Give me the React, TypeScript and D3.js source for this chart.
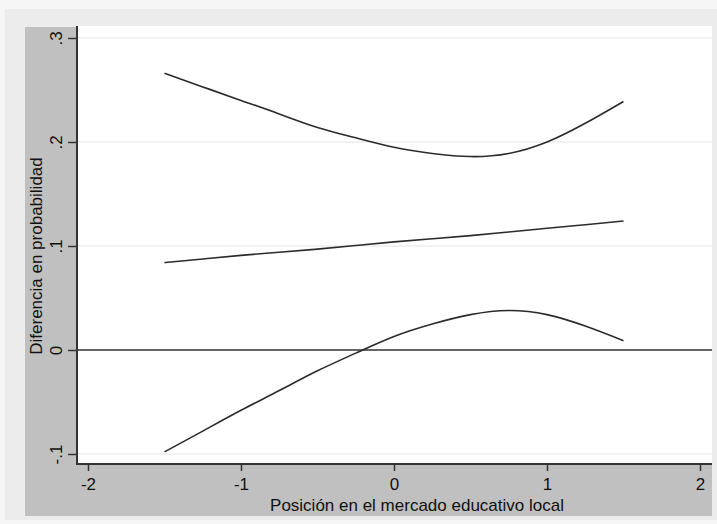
import React, { useRef, useEffect } from "react";
import * as d3 from "d3";

// data
const positions = [-1.5, -1.25, -1, -0.75, -0.5, -0.25, 0, 0.25, 0.5, 0.75, 1, 1.25, 1.5];
const upperBound = [0.266, 0.253, 0.24, 0.227, 0.214, 0.204, 0.195, 0.189, 0.186, 0.189, 0.2, 0.218, 0.239];
const estimate = [0.084, 0.0875, 0.091, 0.094, 0.097, 0.1005, 0.104, 0.107, 0.11, 0.1135, 0.117, 0.1205, 0.124];
const lowerBound = [-0.098, -0.078, -0.058, -0.039, -0.02, -0.003, 0.013, 0.025, 0.034, 0.038, 0.034, 0.023, 0.009];
const xTicks = [-2, -1, 0, 1, 2];
const yTicks = [-0.1, 0, 0.1, 0.2, 0.3];
const yTickLabels = ["-.1", "0", ".1", ".2", ".3"];

const App = () => {
  const svgRef = useRef<SVGSVGElement>(null);
  const width = 717;
  const height = 524;

  useEffect(() => {
    const svg = d3.select(svgRef.current);
    svg.selectAll("*").remove();
    const font = "'Liberation Sans', Arial, sans-serif";

    // plot region
    const left = 77;
    const right = 712;
    const top = 26;
    const bottom = 464;

    const x = d3.scaleLinear().domain([-2, 2]).range([88, 700]);
    const y = d3.scaleLinear().domain([-0.1, 0.3]).range([454, 38]);

    // backgrounds
    svg.append("rect").attr("width", width).attr("height", height).attr("fill", "#f6f6f6");
    svg.append("rect").attr("x", 5).attr("y", 9).attr("width", 712).attr("height", 511).attr("fill", "#ececec");
    svg.append("rect").attr("x", 25).attr("y", 27).attr("width", right - 25).attr("height", 516 - 27).attr("fill", "#c0c0c0");
    svg.append("rect").attr("x", left).attr("y", top).attr("width", right - left).attr("height", bottom - top).attr("fill", "#ffffff");

    // gridlines
    svg
      .append("g")
      .selectAll("line")
      .data(yTicks.filter((d) => d !== 0))
      .join("line")
      .attr("x1", left)
      .attr("x2", right)
      .attr("y1", (d) => y(d))
      .attr("y2", (d) => y(d))
      .attr("stroke", "#e4e4e4")
      .attr("stroke-width", 1);

    // zero line
    svg
      .append("line")
      .attr("x1", left)
      .attr("x2", right)
      .attr("y1", y(0))
      .attr("y2", y(0))
      .attr("stroke", "#333")
      .attr("stroke-width", 1.5);

    // curves
    const line = d3
      .line<number>()
      .x((d, i) => x(positions[i]))
      .y((d) => y(d))
      .curve(d3.curveNatural);

    [upperBound, estimate, lowerBound].forEach((series) => {
      svg
        .append("path")
        .attr("d", line(series))
        .attr("fill", "none")
        .attr("stroke", "#2b2b2b")
        .attr("stroke-width", 1.6);
    });

    // axes
    const yAxis = d3
      .axisLeft(y)
      .tickValues(yTicks)
      .tickSize(9)
      .tickPadding(6)
      .tickFormat((d, i) => yTickLabels[i]);

    const yg = svg.append("g").attr("transform", `translate(${left},0)`).call(yAxis);
    yg.select(".domain").remove();
    yg.selectAll(".tick line").attr("stroke", "#333").attr("stroke-width", 1.5);
    yg.selectAll(".tick text")
      .attr("transform", "rotate(-90)")
      .attr("x", 0)
      .attr("y", -15)
      .attr("text-anchor", "middle")
      .attr("dy", 0)
      .attr("font-family", font)
      .attr("font-size", 17)
      .attr("fill", "#111");

    const xAxis = d3.axisBottom(x).tickValues(xTicks).tickSize(7).tickPadding(4).tickFormat(d3.format("d"));
    const xg = svg.append("g").attr("transform", `translate(0,${bottom})`).call(xAxis);
    xg.select(".domain").remove();
    xg.selectAll(".tick line").attr("stroke", "#333").attr("stroke-width", 1.5);
    xg.selectAll(".tick text")
      .attr("y", 26)
      .attr("dy", 0)
      .attr("font-family", font)
      .attr("font-size", 17)
      .attr("fill", "#111")
      .text((d: any) => (d < 0 ? "-" + Math.abs(d) : String(d)));

    // axis lines
    svg.append("line").attr("x1", left).attr("x2", left).attr("y1", top).attr("y2", bottom + 1).attr("stroke", "#333").attr("stroke-width", 2);
    svg.append("line").attr("x1", left).attr("x2", right).attr("y1", bottom).attr("y2", bottom).attr("stroke", "#333").attr("stroke-width", 2);

    // titles
    svg
      .append("text")
      .attr("x", 417)
      .attr("y", 511)
      .attr("text-anchor", "middle")
      .attr("font-family", font)
      .attr("font-size", 17)
      .attr("fill", "#111")
      .text("Posición en el mercado educativo local");

    svg
      .append("text")
      .attr("transform", `translate(42,256) rotate(-90)`)
      .attr("text-anchor", "middle")
      .attr("font-family", font)
      .attr("font-size", 17)
      .attr("fill", "#111")
      .text("Diferencia en probabilidad");
  }, []);

  return (
    <div style={{ position: "fixed", left: 0, top: 0 }}>
      <svg ref={svgRef} width={width} height={height} style={{ display: "block" }}></svg>
    </div>
  );
};

export default App;
